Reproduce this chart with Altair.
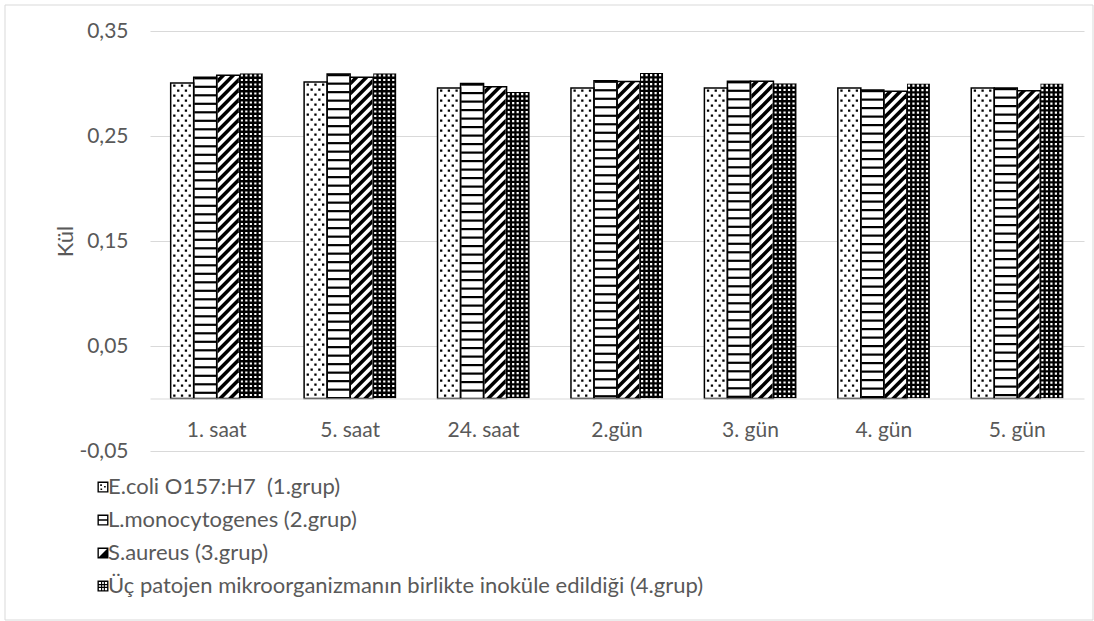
import altair as alt
import pandas as pd

# ---------------- data ----------------
categories = ["1. saat", "5. saat", "24. saat", "2.gün", "3. gün", "4. gün", "5. gün"]
groups = [
    "E.coli O157:H7  (1.grup)",
    "L.monocytogenes (2.grup)",
    "S.aureus (3.grup)",
    "Üç patojen mikroorganizmanın birlikte inoküle edildiği (4.grup)",
]
ecoli = [0.3005, 0.3014, 0.2957, 0.2957, 0.2957, 0.2957, 0.2957]
listeria = [0.3060, 0.3090, 0.3000, 0.3027, 0.3022, 0.2938, 0.2957]
saureus = [0.3078, 0.3060, 0.2970, 0.3020, 0.3022, 0.2926, 0.2930]
mixed = [0.3097, 0.3097, 0.2919, 0.3100, 0.3002, 0.3000, 0.3000]
series = [ecoli, listeria, saureus, mixed]

rows = []
for gi, (g, vals) in enumerate(zip(groups, series)):
    for c, v in zip(categories, vals):
        rows.append({"cat": c, "grp": g, "gi": gi, "v": v})
df = pd.DataFrame(rows)

# ---------------- layout / style ----------------
PLOT_W, PLOT_H = 934, 420
Y_DOM = [-0.05, 0.35]
PX = PLOT_H / (Y_DOM[1] - Y_DOM[0])  # pixels per data unit
PAD_IN = 0.31
STEP = PLOT_W / len(categories)
W = STEP * (1 - PAD_IN) / len(groups)  # bar width in px
S = W / 2
COVER = 32  # px

FONT = "Lato"
TXT = "#595959"
GRID = "#d9d9d9"


def rect_tile(rects, period):
    parts = []
    for lx, ly, w, h in rects:
        x0 = (lx - W / 2) / S
        y0 = (ly - period / 2) / S
        parts.append(f"M{x0:.4f},{y0:.4f}h{w / S:.4f}v{h / S:.4f}h{-w / S:.4f}Z")
    return "".join(parts)


P_DOTS, P_LINES, P_DIAG, P_CHECK = 10.0, 8.5, 10.0, 4.5
dots_path = rect_tile([(2.5, 1.5, 2.3, 2.3), (10.2, 1.5, 2.3, 2.3), (17.9, 1.5, 2.3, 2.3),
                       (6.4, 6.5, 2.3, 2.3), (14.1, 6.5, 2.3, 2.3)], P_DOTS)
lines_path = rect_tile([(0.6, 0, W - 1.2, 2.2)], P_LINES)
check_path = rect_tile([(1 + 4.5 * i, 1.1, 2.2, 2.2) for i in range(5)], P_CHECK)
T = 5.0 / W
E = 0.9 / S  # keep stripes just inside the bar edges
diag_path = (f"M{-1 + E:.4f},{1 - T - E:.4f}L{-1 + E:.4f},{1 + T - E:.4f}"
             f"L{1 - E:.4f},{-1 + T + E:.4f}L{1 - E:.4f},{-1 - T + E:.4f}Z")

# legend symbols (unit box, nudged right so they sit next to their labels)
DX = 1.45


def poly(pts):
    return "M" + "L".join(f"{x + DX:.3f},{y:.3f}" for x, y in pts) + "Z "


def box(x0, y0, x1, y1, ccw=False):
    pts = [(x0, y0), (x1, y0), (x1, y1), (x0, y1)]
    return poly(pts[::-1] if ccw else pts)


frame = box(-1, -1, 1, 1) + box(-0.75, -0.75, 0.75, 0.75, ccw=True)
legend_paths = [
    frame + box(-0.5, -0.5, -0.2, -0.2) + box(0.2, -0.2, 0.5, 0.1) + box(-0.45, 0.25, -0.15, 0.55),
    frame + box(-1, -0.12, 1, 0.12),
    frame + poly([(1, -1), (1, 1), (-1, 1)]),
    frame + box(-0.35, -1, -0.15, 1) + box(0.15, -1, 0.35, 1)
    + box(-1, -0.35, 1, -0.15) + box(-1, 0.15, 1, 0.35),
]

x_enc = alt.X(
    "cat:N", sort=categories,
    scale=alt.Scale(domain=categories, paddingInner=PAD_IN, paddingOuter=PAD_IN / 2, round=False),
    axis=alt.Axis(title=None, labelFont=FONT, labelFontSize=21, labelColor=TXT,
                  domainColor=GRID, domainWidth=1, ticks=False, tickSize=0,
                  labelPadding=21, offset=-(0 - Y_DOM[0]) * PX, zindex=1,
                  labelAngle=0, grid=False),
)
xo_enc = alt.XOffset("grp:N", sort=groups,
                     scale=alt.Scale(domain=groups, paddingInner=0, paddingOuter=0, round=False))

y_scale = alt.Scale(domain=Y_DOM, nice=False, zero=False)
y_axis = alt.Axis(
    title="Kül", values=[-0.05, 0.05, 0.15, 0.25, 0.35],
    labelExpr="replace(replace(format(datum.value, '.2f'), '.', ','), '\u2212', '-')",
    labelFont=FONT, labelFontSize=21, labelColor=TXT, labelPadding=22,
    domain=False, ticks=False, tickSize=0, grid=True, gridColor=GRID, gridWidth=1,
    titleFont=FONT, titleFontSize=22, titleFontWeight="normal", titleColor=TXT,
    titleAngle=270, titleX=-85, titleY=PLOT_H / 2, titleAlign="center", titleBaseline="middle",
)


def Y(field):
    return alt.Y(f"{field}:Q", scale=y_scale, axis=y_axis)


base = alt.Chart(df)

border = alt.Chart(pd.DataFrame({"z": [0]})).mark_rect(
    filled=False, color=GRID, strokeWidth=1
).encode(x=alt.value(-145), x2=alt.value(943), y=alt.value(-26), y2=alt.value(589))

fills = base.transform_calculate(
    fillc="datum.gi == 3 ? 'black' : 'white'"
).mark_bar().encode(
    x=x_enc, xOffset=xo_enc, y=Y("v"), y2=alt.datum(0),
    color=alt.Color("fillc:N", scale=None),
)


def pattern_layer(gi, period, path, color, k0, extra):
    return (
        base.transform_filter(f"datum.gi == {gi}")
        .transform_calculate(k=f"sequence({k0}, ceil(datum.v * {PX} / {period}) + {extra})")
        .transform_flatten(["k"])
        .transform_calculate(yc=f"datum.v - (datum.k + 0.5) * {period} / {PX}")
        .mark_point(shape=path, size=W * W, filled=True, color=color, opacity=1, strokeWidth=0)
        .encode(x=x_enc, xOffset=xo_enc, y=Y("yc"))
    )


patterns = [
    pattern_layer(0, P_DOTS, dots_path, "black", 0, 0),
    pattern_layer(1, P_LINES, lines_path, "black", 0, 0),
    pattern_layer(2, P_DIAG, diag_path, "black", -2, 1),
    pattern_layer(3, P_CHECK, check_path, "white", 0, 0),
]

cover_top = base.transform_calculate(ct=f"datum.v + {COVER} / {PX}").mark_bar(color="white").encode(
    x=x_enc, xOffset=xo_enc, y=Y("v"), y2=alt.Y2("ct:Q"))
cover_bottom = base.transform_calculate(cb=f"-{COVER} / {PX}").mark_bar(color="white").encode(
    x=x_enc, xOffset=xo_enc, y=Y("cb"), y2=alt.datum(0))

outline = base.transform_filter("datum.gi < 3").mark_bar(filled=False, color="black", strokeWidth=1.5).encode(
    x=x_enc, xOffset=xo_enc, y=Y("v"), y2=alt.datum(0))

legend_layer = base.mark_point(filled=True, color="black", opacity=0).encode(
    x=x_enc, xOffset=xo_enc, y=Y("v"),
    shape=alt.Shape(
        "grp:N", sort=groups,
        scale=alt.Scale(domain=groups, range=legend_paths),
        legend=alt.Legend(
            title=None, orient="none", legendX=-66, legendY=445, direction="vertical",
            labelFont=FONT, labelFontSize=22, labelColor=TXT, labelLimit=1000,
            labelExpr="replace(datum.label, '  ', '\u00a0 ')",
            symbolSize=121, symbolOpacity=1, symbolStrokeWidth=0, symbolFillColor="black",
            rowPadding=11, labelOffset=2,
        ),
    ),
)

chart = (
    alt.layer(border, fills, *patterns, cover_top, cover_bottom, outline, legend_layer)
    .properties(
        width=PLOT_W, height=PLOT_H,
        padding={"left": 150, "top": 31, "right": 10, "bottom": 170},
        autosize=alt.AutoSizeParams(type="none"),
    )
    .configure(font=FONT)
    .configure_view(strokeWidth=0)
)

chart.save("out.html", embed_options={"renderer": "svg", "actions": False})
